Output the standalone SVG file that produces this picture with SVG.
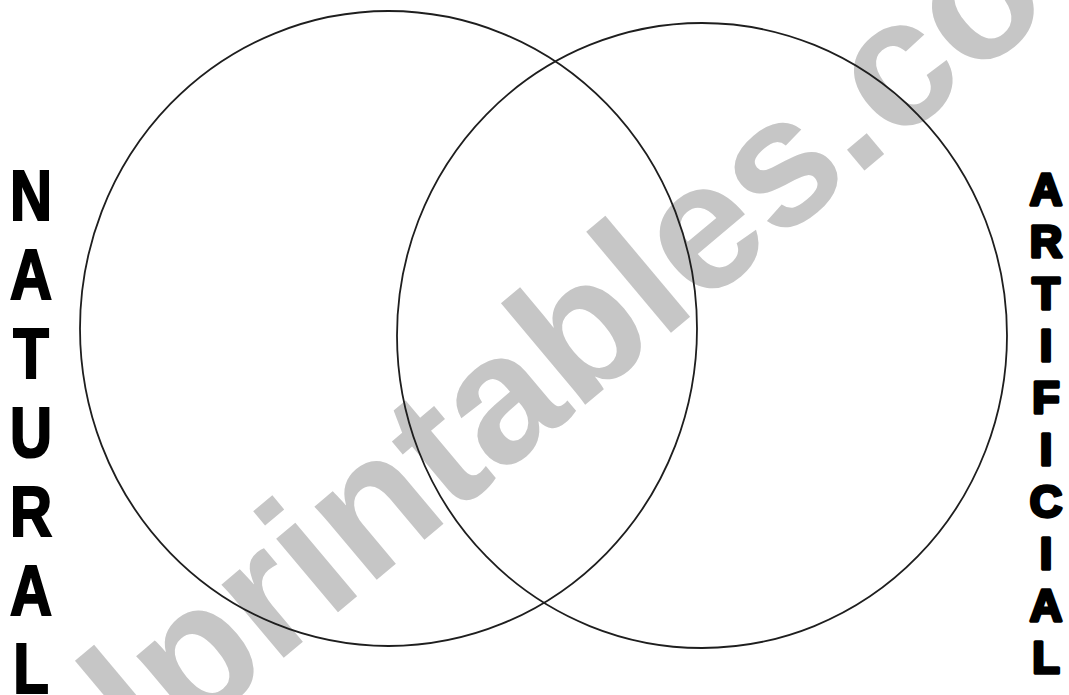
<svg xmlns="http://www.w3.org/2000/svg" width="1069" height="695" viewBox="0 0 1069 695">
<style>
.bg{fill:#ffffff}
.wm{font-family:"Liberation Sans",Arial,sans-serif;font-weight:bold;font-size:182px;fill:#c6c6c6}
.ring{fill:none;stroke:#1e1e1e;stroke-width:1.8}
.nat{font-family:"Liberation Sans",Arial,sans-serif;font-weight:bold;font-size:71px;fill:#000;stroke:#000;stroke-width:2.2;text-anchor:middle}
.art{font-family:"Liberation Sans",Arial,sans-serif;font-weight:bold;font-size:45px;fill:#000;stroke:#000;stroke-width:3.4;stroke-linejoin:round;text-anchor:middle}
</style>
<rect class="bg" x="0" y="0" width="1069" height="695"/>
<g id="watermark">
<text class="wm" transform="translate(150,770) rotate(-40)">lprintables.co</text>
</g>
<g id="connectors"></g>
<g id="natural-set">
<ellipse class="ring" cx="388.5" cy="328.5" rx="308.5" ry="317.5"/>
</g>
<g id="artificial-set">
<ellipse class="ring" cx="702" cy="335.5" rx="305" ry="312.5"/>
</g>
<g id="natural-label" transform="matrix(0.82 0 0 1 31 0)">
<text class="nat" x="0" y="220">N</text>
<text class="nat" x="0" y="299">A</text>
<text class="nat" x="0" y="378">T</text>
<text class="nat" x="0" y="457">U</text>
<text class="nat" x="0" y="536">R</text>
<text class="nat" x="0" y="615">A</text>
<text class="nat" x="0" y="693">L</text>
</g>
<g id="artificial-label">
<text class="art" x="1046" y="205">A</text>
<text class="art" x="1046" y="257">R</text>
<text class="art" x="1046" y="309">T</text>
<text class="art" x="1046" y="361">I</text>
<text class="art" x="1046" y="413">F</text>
<text class="art" x="1046" y="465">I</text>
<text class="art" x="1046" y="517">C</text>
<text class="art" x="1046" y="569">I</text>
<text class="art" x="1046" y="621">A</text>
<text class="art" x="1046" y="673">L</text>
</g>
</svg>
